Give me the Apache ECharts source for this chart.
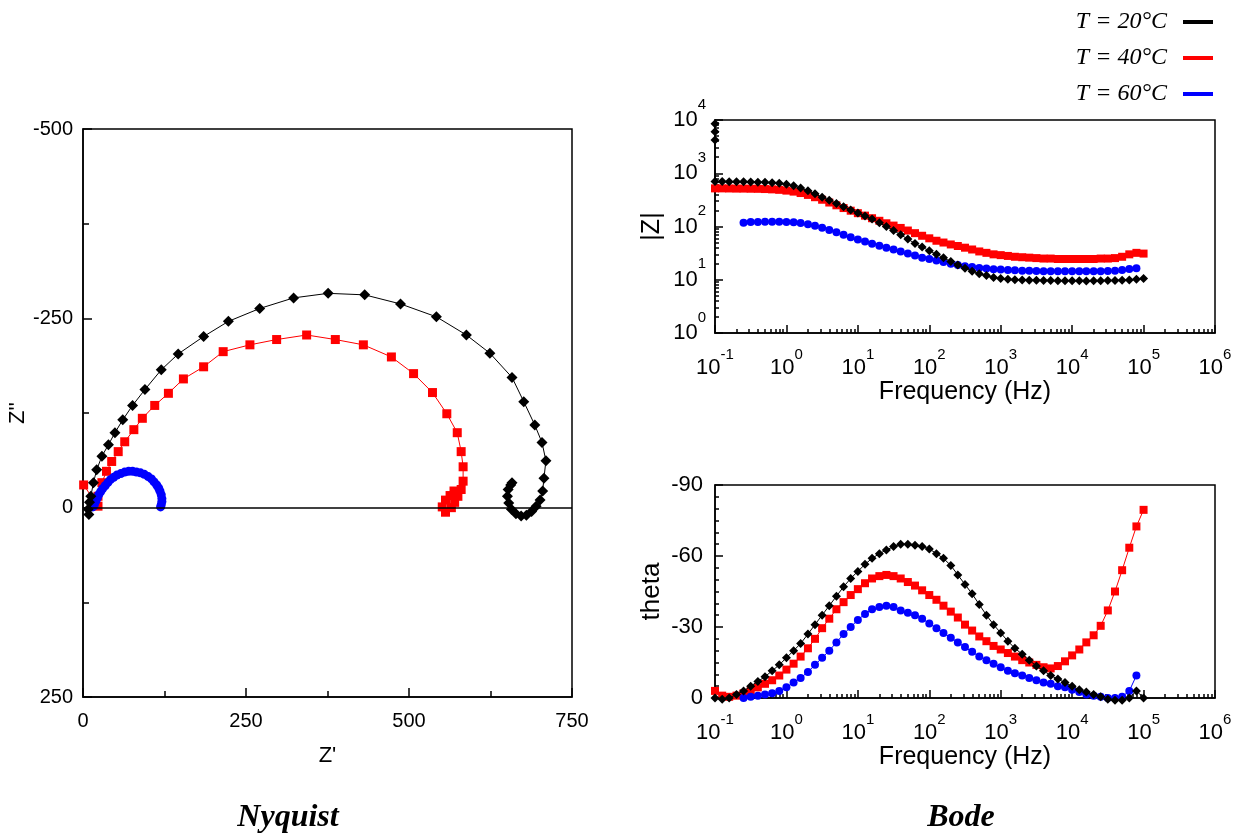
<!DOCTYPE html>
<html><head><meta charset="utf-8">
<script src="https://cdn.jsdelivr.net/npm/echarts@6/dist/echarts.min.js"></script>
<style>html,body{margin:0;padding:0;background:#fff}#c{width:1242px;height:840px}</style>
</head><body><div id="c"></div>
<script>
// ---------- DATA ----------
const seriesNames = ['T = 20°C', 'T = 40°C', 'T = 60°C'];

// Nyquist (Z' , Z''), high frequency first
const nyBlackRe = [9, 8, 10, 12, 16, 21, 29, 39, 49, 61, 76, 95, 120, 146, 185, 223, 271, 323, 376, 432, 487, 542, 588, 624, 658, 676, 693, 704, 710, 707, 705, 701, 695, 688, 680, 672, 664, 657, 653, 651, 652, 656, 658];
const nyBlackIm = [9, 2, -7, -15, -33, -50, -68, -83, -99, -116, -135, -156, -182, -203, -226, -246, -263, -277, -283, -281, -269, -252, -228, -204, -172, -140, -109, -86, -62, -39, -22, -10, -2, 5, 10, 11, 8, 2, -6, -15, -24, -30, -33];
const nyRedRe = [1, 23, 23, 29, 36, 44, 54, 64, 78, 91, 110, 131, 154, 185, 215, 256, 297, 343, 387, 430, 473, 507, 536, 558, 574, 580, 583, 583, 580, 575, 570, 565, 556, 551, 556, 563, 569];
const nyRedIm = [-30, -2, -15, -33, -48, -61, -74, -87, -103, -118, -135, -151, -170, -186, -206, -215, -222, -228, -222, -215, -199, -177, -152, -124, -99, -74, -54, -35, -24, -15, -7, 0, 6, -1, -10, -16, -22];
const nyBlueRe = [15, 16, 17, 18, 20, 22, 24, 27, 30, 34, 38, 42, 47, 52, 58, 64, 70, 76, 82, 88, 94, 100, 105, 109, 113, 116, 118, 120, 121, 121, 120, 119];
const nyBlueIm = [-1, -2, -3, -6, -9, -13, -17, -21, -25, -29, -33, -37, -40, -43, -45, -47, -48, -48, -47, -46, -44, -41, -38, -34, -30, -26, -22, -17, -12, -8, -4, -1];

// Bode: frequencies (Hz)
const freq = [0.1, 0.126, 0.158, 0.2, 0.251, 0.316, 0.398, 0.501, 0.631, 0.794,
  1, 1.26, 1.58, 2, 2.51, 3.16, 3.98, 5.01, 6.31, 7.94,
  10, 12.6, 15.8, 20, 25.1, 31.6, 39.8, 50.1, 63.1, 79.4,
  100, 126, 158, 200, 251, 316, 398, 501, 631, 794,
  1000, 1260, 1580, 2000, 2510, 3160, 3980, 5010, 6310, 7940,
  10000, 12600, 15800, 20000, 25100, 31600, 39800, 50100, 63100, 79400,
  100000];
const freqBlue = [0.251, 0.316, 0.398, 0.501, 0.631, 0.794,
  1, 1.26, 1.58, 2, 2.51, 3.16, 3.98, 5.01, 6.31, 7.94,
  10, 12.6, 15.8, 20, 25.1, 31.6, 39.8, 50.1, 63.1, 79.4,
  100, 126, 158, 200, 251, 316, 398, 501, 631, 794,
  1000, 1260, 1580, 2000, 2510, 3160, 3980, 5010, 6310, 7940,
  10000, 12600, 15800, 20000, 25100, 31600, 39800, 50100, 63100, 79400];

// |Z| (ohm)
const zBlackFirst = [8500, 6000, 4200];   // first readings at 0.1 Hz
const zBlack = [700, 700, 695, 690, 690, 685, 680, 675, 665, 650,
  620, 580, 530, 470, 410, 355, 310, 270, 235, 205,
  180, 158, 138, 118, 100, 84, 70, 58, 48, 41,
  35, 30, 26, 22, 19, 16.5, 14.5, 13, 12, 11,
  10.5, 10.2, 10, 9.9, 9.8, 9.8, 9.7, 9.7, 9.6, 9.6,
  9.6, 9.6, 9.5, 9.6, 9.6, 9.7, 9.7, 9.8, 9.9, 10.2,
  10.5];
const zRed = [520, 520, 518, 515, 515, 512, 510, 505, 498, 488,
  472, 452, 425, 392, 355, 318, 282, 250, 222, 198,
  178, 160, 143, 128, 115, 104, 94, 84, 75, 67,
  60, 54, 50, 46, 43, 40, 37, 34, 32, 30,
  29, 28, 27, 26.5, 26, 25.5, 25, 25, 24.5, 24.5,
  24.5, 24.5, 24.5, 24.5, 25, 25, 25.5, 27, 30, 32,
  31];
const zBlue = [118, 121, 122, 123, 123, 123,
  122, 120, 116, 110, 103, 95, 86, 78, 70, 63,
  57, 52, 47.5, 43.5, 40, 37, 34, 31, 28.5, 26,
  24.5, 23, 21.5, 20, 19, 18, 17.3, 16.7, 16.2, 15.8,
  15.5, 15.2, 15, 14.8, 14.7, 14.6, 14.5, 14.5, 14.4, 14.4,
  14.4, 14.4, 14.4, 14.5, 14.5, 14.6, 14.8, 15.2, 16, 16.5];

// theta (deg)
const thBlack = [0, 0.5, 0, -1.5, -3, -5, -7, -9, -11.5, -14,
  -17, -20, -23, -27, -31, -35, -39, -43, -47, -50.5,
  -53.5, -56.5, -59, -61, -62.5, -64, -65, -65, -64.5, -64,
  -63, -61, -59, -56, -52, -48, -44, -39.5, -35, -31,
  -27.5, -24, -21, -18.5, -16, -13.5, -11.5, -9.5, -8, -6.5,
  -5, -3.5, -2.5, -1.5, -0.5, 0.5, 1, 1, 0, -3,
  0];
const thRed = [-3, -1, -0.5, -1, -2, -3, -4.5, -6, -7.5, -9.5,
  -12, -14.5, -17.5, -21, -25, -29.5, -33.5, -37.5, -40.5, -43.5,
  -46, -48.5, -50.5, -51.5, -52, -51.5, -50.5, -49, -47.5, -45.5,
  -43.5, -41.5, -39, -36.5, -34, -31, -28.5, -26, -24, -22,
  -20.5, -19, -17.5, -16, -15, -14, -13, -12.5, -13.5, -15.5,
  -18, -20.5, -23.5, -26.5, -30.5, -37, -45, -54, -63.5, -72.5,
  -79.5];
const thBlue = [0, -0.5, -1, -1.5, -2, -3,
  -4.5, -6.5, -8.5, -11, -14, -17, -20, -23.5, -27, -30,
  -33, -35.5, -37.5, -38.5, -39, -38.5, -37, -36, -35, -33.5,
  -31.5, -29.5, -27.5, -25.5, -23.5, -21.5, -19.5, -17.5, -16, -14.5,
  -13, -11.5, -10.5, -9.5, -8.5, -7.5, -6.5, -6, -5, -4.5,
  -3.5, -2.5, -1.5, -1, -0.5, 0, 0, -0.5, -3, -9.5];

// tick values
const nyXTicks = [0, 250, 500, 750];
const nyYTicks = [-500, -250, 0, 250];
const freqDecades = [-1, 0, 1, 2, 3, 4, 5, 6];   // exponents
const zDecades = [0, 1, 2, 3, 4];
const thetaTicks = [-90, -60, -30, 0];
const minorMultipliers = [2, 3, 4, 5, 6, 7, 8, 9];

// ---------- BUILD ----------
const FONT = 'Liberation Sans';
const BLK = '#000000', RED = '#ff0000', BLU = '#0000ff';
const zip = (a, b) => a.map((v, i) => [v, b[i]]);
function minorLogs(decs) {
  const out = [];
  for (let i = 0; i < decs.length - 1; i++) minorMultipliers.forEach(m => out.push(decs[i] + Math.log10(m)));
  return out;
}
const axLine = { show: true, onZero: false, lineStyle: { color: '#000', width: 1.5 } };
const noLine = { show: false, onZero: false };
const tick = (len) => ({ show: true, inside: true, length: len, lineStyle: { color: '#000', width: 1.5 } });
const richX = {
  b: { fontSize: 22, fontFamily: FONT, color: '#000', padding: [10, 0, 0, 0] },
  s: { fontSize: 15, fontFamily: FONT, color: '#000', verticalAlign: 'top' }
};
const richY = {
  b: { fontSize: 22, fontFamily: FONT, color: '#000', padding: [12, 0, 12, 0] },
  s: { fontSize: 15, fontFamily: FONT, color: '#000', verticalAlign: 'top' }
};
const powFmt = v => '{b|10}{s|' + Math.round(Math.log10(v)) + '}';
const nameStyle = (fs) => ({ fontFamily: FONT, fontSize: fs, color: '#000' });

function series(name, color, symbol, size, xi, yi, data, z) {
  return {
    name, type: 'line', xAxisIndex: xi, yAxisIndex: yi, data,
    symbol, symbolSize: size, showSymbol: true, clip: false, z: z,
    lineStyle: { color, width: 1 }, itemStyle: { color, borderWidth: 0 },
    emphasis: { disabled: true }, animation: false
  };
}

const blackZ = zBlackFirst.map(v => [freq[0], v]).concat(zip(freq, zBlack));

const nyBlack = series(seriesNames[0], BLK, 'diamond', 11, 0, 0, zip(nyBlackRe, nyBlackIm), 5);
nyBlack.markLine = { silent: true, symbol: ['none', 'none'], label: { show: false },
  lineStyle: { color: '#000', width: 1.5, type: 'solid' }, data: [{ yAxis: 0 }] };

const option = {
  animation: false,
  backgroundColor: '#fff',
  grid: [
    { left: 83, top: 129, width: 489, height: 568, show: true, borderColor: '#000', borderWidth: 1.5 },
    { left: 715, top: 120, width: 500, height: 213, show: true, borderColor: '#000', borderWidth: 1.5 },
    { left: 715, top: 485, width: 500, height: 213, show: true, borderColor: '#000', borderWidth: 1.5 }
  ],
  legend: {
    data: seriesNames, orient: 'vertical', right: 29, top: 10, padding: 0, align: 'right',
    icon: 'rect', itemWidth: 30, itemHeight: 4, itemGap: 12, selectedMode: false,
    textStyle: { fontFamily: 'Liberation Serif', fontStyle: 'italic', fontSize: 24, color: '#000', padding: [0, 11, 0, 0] }
  },
  xAxis: [
    { gridIndex: 0, type: 'value', min: nyXTicks[0], max: nyXTicks[3], interval: nyXTicks[1] - nyXTicks[0],
      axisLine: axLine, axisTick: tick(9), minorTick: { show: true, splitNumber: 2, length: 6, lineStyle: { color: '#000', width: 1.5 } },
      splitLine: { show: false }, minorSplitLine: { show: false },
      axisLabel: { color: '#000', fontFamily: FONT, fontSize: 20, margin: 14 },
      name: "Z'", nameLocation: 'middle', nameGap: 48, nameTextStyle: nameStyle(22) },
    { gridIndex: 1, type: 'log', logBase: 10, min: Math.pow(10, freqDecades[0]), max: Math.pow(10, freqDecades[7]), position: 'bottom',
      axisLine: axLine, axisTick: tick(8), splitLine: { show: false },
      axisLabel: { formatter: powFmt, rich: richX, margin: 14 },
      name: 'Frequency (Hz)', nameLocation: 'middle', nameGap: 46, nameTextStyle: nameStyle(25) },
    { gridIndex: 1, type: 'value', min: freqDecades[0], max: freqDecades[7], position: 'bottom',
      axisLine: noLine, axisLabel: { show: false }, splitLine: { show: false },
      axisTick: Object.assign(tick(4), { customValues: minorLogs(freqDecades) }) },
    { gridIndex: 2, type: 'log', logBase: 10, min: Math.pow(10, freqDecades[0]), max: Math.pow(10, freqDecades[7]), position: 'bottom',
      axisLine: axLine, axisTick: tick(8), splitLine: { show: false },
      axisLabel: { formatter: powFmt, rich: richX, margin: 14 },
      name: 'Frequency (Hz)', nameLocation: 'middle', nameGap: 46, nameTextStyle: nameStyle(25) },
    { gridIndex: 2, type: 'value', min: freqDecades[0], max: freqDecades[7], position: 'bottom',
      axisLine: noLine, axisLabel: { show: false }, splitLine: { show: false },
      axisTick: Object.assign(tick(4), { customValues: minorLogs(freqDecades) }) }
  ],
  yAxis: [
    { gridIndex: 0, type: 'value', min: nyYTicks[0], max: nyYTicks[3], interval: nyYTicks[1] - nyYTicks[0], inverse: true,
      axisLine: axLine, axisTick: tick(9), minorTick: { show: true, splitNumber: 2, length: 6, lineStyle: { color: '#000', width: 1.5 } },
      splitLine: { show: false }, minorSplitLine: { show: false },
      axisLabel: { color: '#000', fontFamily: FONT, fontSize: 20, margin: 10 },
      name: "Z''", nameLocation: 'middle', nameGap: 50, nameTextStyle: nameStyle(22) },
    { gridIndex: 1, type: 'log', logBase: 10, min: Math.pow(10, zDecades[0]), max: Math.pow(10, zDecades[4]), position: 'left',
      axisLine: axLine, axisTick: tick(8), splitLine: { show: false },
      axisLabel: { formatter: powFmt, rich: richY, margin: 9 },
      name: '|Z|', nameLocation: 'middle', nameGap: 50, nameTextStyle: nameStyle(25) },
    { gridIndex: 1, type: 'value', min: zDecades[0], max: zDecades[4], position: 'left',
      axisLine: noLine, axisLabel: { show: false }, splitLine: { show: false },
      axisTick: Object.assign(tick(4), { customValues: minorLogs(zDecades) }) },
    { gridIndex: 2, type: 'value', min: thetaTicks[0], max: thetaTicks[3], interval: thetaTicks[1] - thetaTicks[0], inverse: true,
      axisLine: axLine, axisTick: tick(8), minorTick: { show: true, splitNumber: 6, length: 4, lineStyle: { color: '#000', width: 1.5 } },
      splitLine: { show: false }, minorSplitLine: { show: false },
      axisLabel: { color: '#000', fontFamily: FONT, fontSize: 22, margin: 12 },
      name: 'theta', nameLocation: 'middle', nameGap: 50, nameTextStyle: nameStyle(26) }
  ],
  series: [
    series(seriesNames[1], RED, 'rect', 9, 0, 0, zip(nyRedRe, nyRedIm), 3),
    series(seriesNames[2], BLU, 'circle', 9, 0, 0, zip(nyBlueRe, nyBlueIm), 4),
    nyBlack,
    series(seriesNames[1], RED, 'rect', 8, 1, 1, zip(freq, zRed), 3),
    series(seriesNames[2], BLU, 'circle', 8, 1, 1, zip(freqBlue, zBlue), 4),
    series(seriesNames[0], BLK, 'diamond', 9, 1, 1, blackZ, 5),
    series(seriesNames[1], RED, 'rect', 8, 3, 3, zip(freq, thRed), 3),
    series(seriesNames[2], BLU, 'circle', 8, 3, 3, zip(freqBlue, thBlue), 4),
    series(seriesNames[0], BLK, 'diamond', 9, 3, 3, zip(freq, thBlack), 5)
  ],
  graphic: [
    { type: 'text', x: 288, y: 818, style: { text: 'Nyquist', font: 'italic bold 32px "Liberation Serif"', fill: '#000', align: 'center', verticalAlign: 'middle' } },
    { type: 'text', x: 961, y: 818, style: { text: 'Bode', font: 'italic bold 32px "Liberation Serif"', fill: '#000', align: 'center', verticalAlign: 'middle' } }
  ]
};
const chart = echarts.init(document.getElementById('c'), null, { renderer: 'canvas' });
chart.setOption(option);
</script>
</body></html>
